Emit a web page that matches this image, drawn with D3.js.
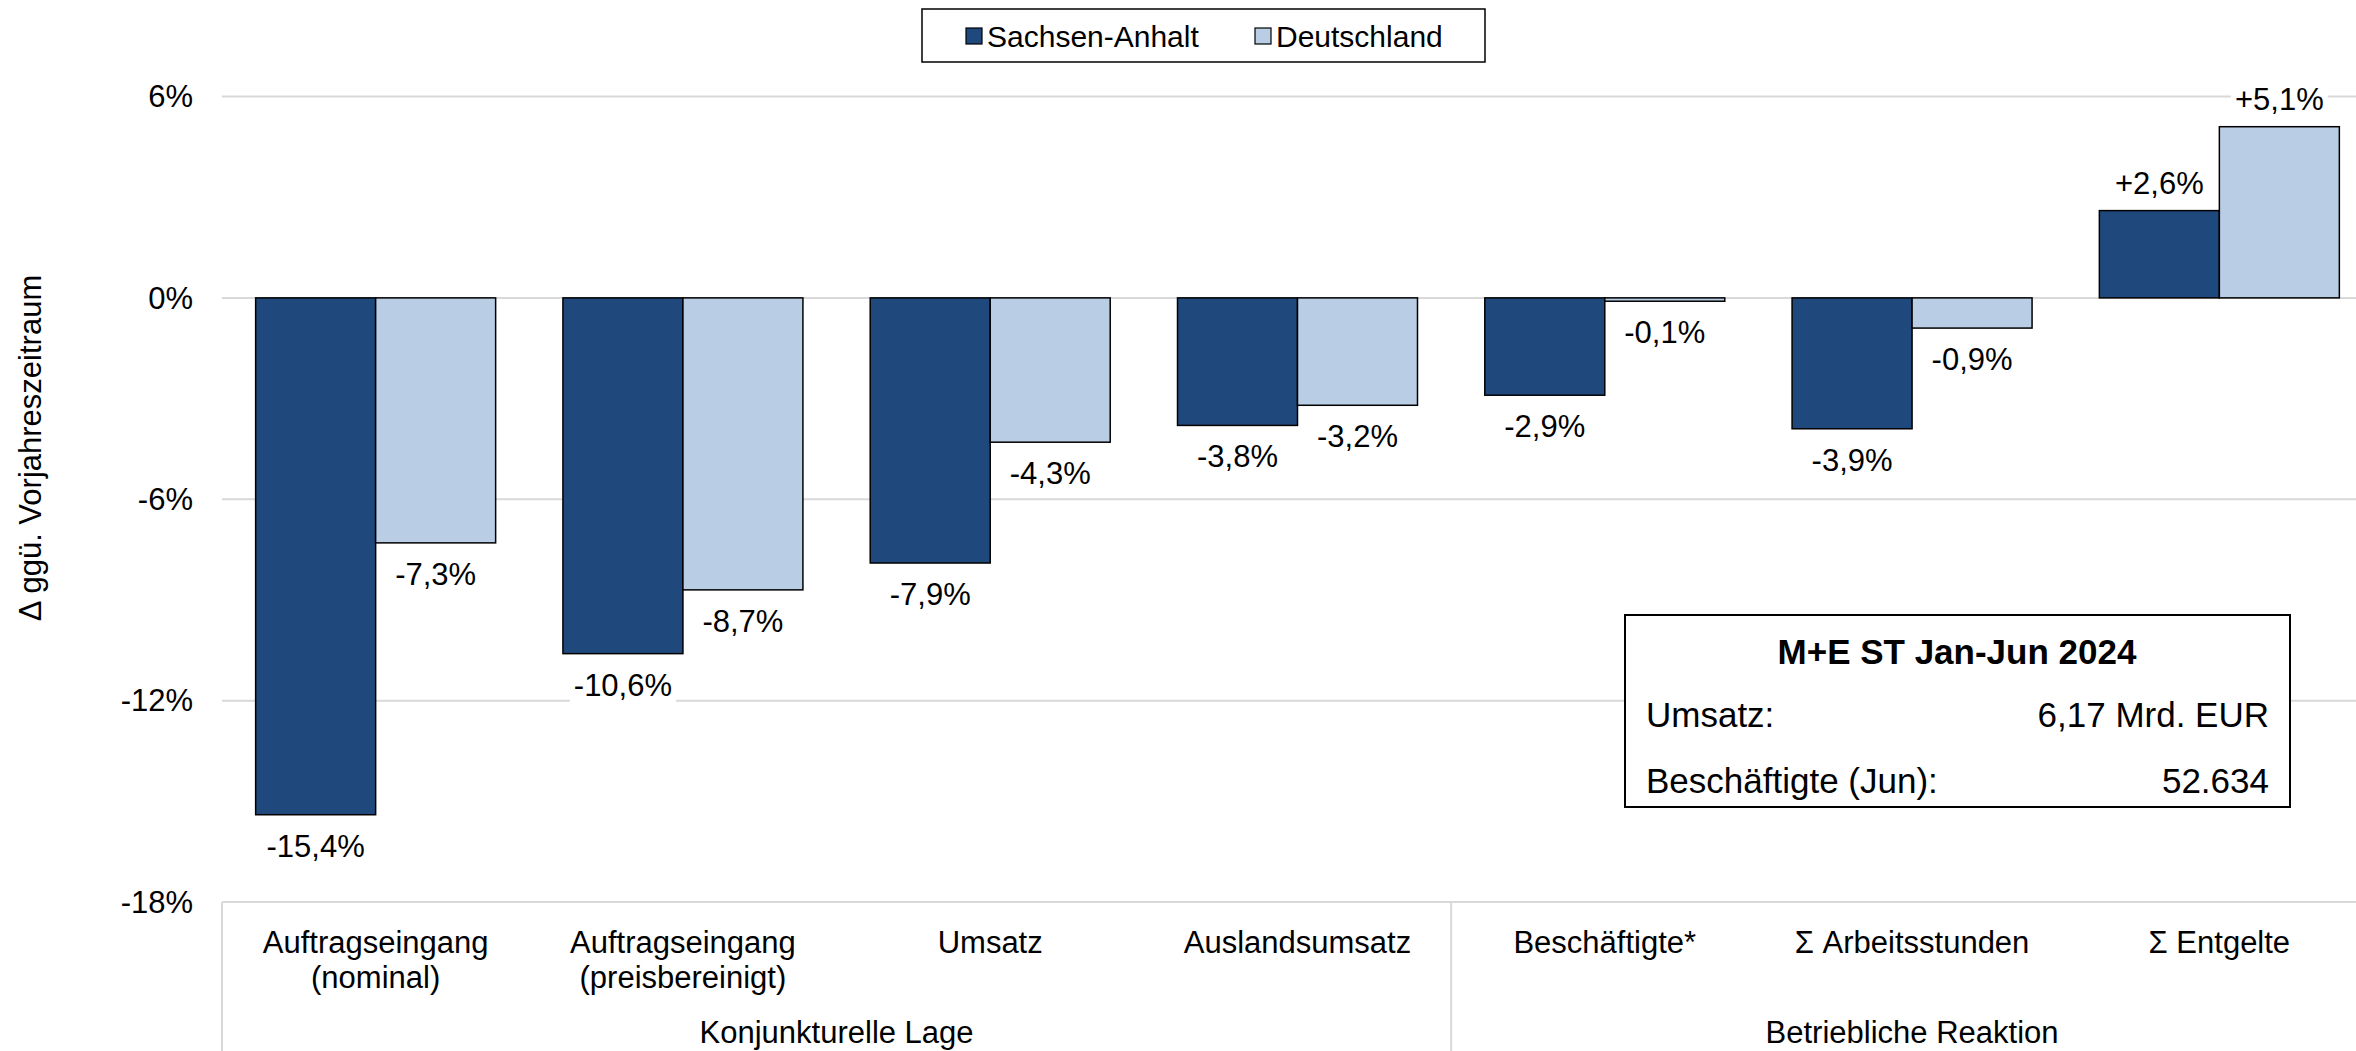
<!DOCTYPE html>
<html>
<head>
<meta charset="utf-8">
<script src="https://cdn.jsdelivr.net/npm/d3@7"></script>
<style>
  body { margin: 0; background: #fff; }
  svg { display: block; font-family: "Liberation Sans", Arial, sans-serif; }
</style>
</head>
<body>
<svg id="chart" width="2356" height="1051"></svg>
<script>
var categories = ["Auftragseingang (nominal)", "Auftragseingang (preisbereinigt)", "Umsatz",
  "Auslandsumsatz", "Beschäftigte*", "Σ Arbeitsstunden", "Σ Entgelte"];
var categoryLines = [["Auftragseingang", "(nominal)"], ["Auftragseingang", "(preisbereinigt)"], ["Umsatz"],
  ["Auslandsumsatz"], ["Beschäftigte*"], ["Σ Arbeitsstunden"], ["Σ Entgelte"]];
var series = ["Sachsen-Anhalt", "Deutschland"];
var sachsenAnhalt = [-15.4, -10.6, -7.9, -3.8, -2.9, -3.9, 2.6];
var deutschland = [-7.3, -8.7, -4.3, -3.2, -0.1, -0.9, 5.1];
var yTicks = [-18, -12, -6, 0, 6];
var groupNames = ["Konjunkturelle Lage", "Betriebliche Reaktion"];
var groupFirst = [0, 4];
var groupLast = [3, 6];
var boxTitle = "M+E ST Jan-Jun 2024";
var boxRows = [["Umsatz:", "6,17 Mrd. EUR"], ["Beschäftigte (Jun):", "52.634"]];

var colors = {"Sachsen-Anhalt": "#1f497d", "Deutschland": "#b9cde5"};
var margin = {left: 222, top: 96.5, bottom: 902};

var svg = d3.select("#chart"),
  W = +svg.attr("width");

var x0 = d3.scaleBand().domain(categories).range([margin.left, 2373])
  .paddingInner(0.219).paddingOuter(0.1095);
var x1 = d3.scaleBand().domain(series).range([0, x0.bandwidth()]);
var y = d3.scaleLinear().domain([-18, 6]).range([margin.bottom, margin.top]);

var fmt = function(v) {
  return (v > 0 ? "+" : "") + v.toFixed(1).replace(".", ",") + "%";
};

// gridlines
svg.append("g").selectAll("line").data(yTicks).join("line")
  .attr("x1", margin.left).attr("x2", W)
  .attr("y1", function(d) { return y(d); }).attr("y2", function(d) { return y(d); })
  .attr("stroke", "#d9d9d9").attr("stroke-width", 2);

// y tick labels
svg.append("g").selectAll("text").data(yTicks).join("text")
  .attr("x", 193).attr("y", function(d) { return y(d); })
  .attr("dy", "0.35em").attr("text-anchor", "end")
  .attr("font-size", 31).attr("fill", "#000")
  .text(function(d) { return d + "%"; });

// y axis title
svg.append("text")
  .attr("transform", "translate(41,448) rotate(-90)")
  .attr("text-anchor", "middle").attr("font-size", 31)
  .text("Δ ggü. Vorjahreszeitraum");

// separators below axis
var sepX = [margin.left, x0(categories[4]) - x0.step() * x0.paddingInner() / 2];
svg.append("g").selectAll("line").data(sepX).join("line")
  .attr("x1", function(d) { return d; }).attr("x2", function(d) { return d; })
  .attr("y1", margin.bottom).attr("y2", 1051)
  .attr("stroke", "#d9d9d9").attr("stroke-width", 2);

// bars
var rows = categories.map(function(c, i) {
  return {cat: c, vals: [{s: series[0], v: sachsenAnhalt[i]}, {s: series[1], v: deutschland[i]}]};
});
var groups = svg.append("g").selectAll("g").data(rows).join("g")
  .attr("transform", function(d) { return "translate(" + x0(d.cat) + ",0)"; });

groups.selectAll("rect").data(function(d) { return d.vals; }).join("rect")
  .attr("x", function(d) { return x1(d.s); })
  .attr("width", x1.bandwidth())
  .attr("y", function(d) { return y(Math.max(0, d.v)); })
  .attr("height", function(d) { return Math.abs(y(d.v) - y(0)); })
  .attr("fill", function(d) { return colors[d.s]; })
  .attr("stroke", "#000").attr("stroke-width", 1.5);

// value labels
var labs = groups.selectAll("g.lab").data(function(d) { return d.vals; }).join("g")
  .attr("class", "lab");
labs.append("rect").attr("fill", "#fff");
labs.append("text")
  .attr("x", function(d) { return x1(d.s) + x1.bandwidth() / 2; })
  .attr("y", function(d) { return d.v < 0 ? y(d.v) + 42 : y(d.v) - 17; })
  .attr("text-anchor", "middle").attr("font-size", 31)
  .text(function(d) { return fmt(d.v); });
labs.each(function() {
  var g = d3.select(this), b = g.select("text").node().getBBox();
  g.select("rect").attr("x", b.x - 4).attr("y", b.y).attr("width", b.width + 8).attr("height", b.height);
});

// category labels
svg.append("g").selectAll("text").data(categories).join("text")
  .attr("x", function(d) { return x0(d) + x0.bandwidth() / 2; })
  .attr("y", 953).attr("text-anchor", "middle").attr("font-size", 31)
  .each(function(d, i) {
    d3.select(this).selectAll("tspan").data(categoryLines[i]).join("tspan")
      .attr("x", x0(d) + x0.bandwidth() / 2)
      .attr("dy", function(t, j) { return j === 0 ? 0 : 35; })
      .text(function(t) { return t; });
  });

// group labels
svg.append("g").selectAll("text").data(groupNames).join("text")
  .attr("x", function(d, i) {
    var a = x0(categories[groupFirst[i]]) - x0.step() * x0.paddingInner() / 2,
      b = x0(categories[groupLast[i]]) + x0.bandwidth() + x0.step() * x0.paddingInner() / 2;
    return (a + b) / 2;
  })
  .attr("y", 1043).attr("text-anchor", "middle").attr("font-size", 31)
  .text(function(d) { return d; });

// legend
var legend = svg.append("g");
legend.append("rect").attr("x", 922).attr("y", 9).attr("width", 563).attr("height", 53)
  .attr("fill", "#fff").attr("stroke", "#000").attr("stroke-width", 1.5);
var legX = [966, 1255];
var li = legend.selectAll("g").data(series).join("g")
  .attr("transform", function(d, i) { return "translate(" + legX[i] + ",36)"; });
li.append("rect").attr("x", 0).attr("y", -8).attr("width", 16).attr("height", 16)
  .attr("fill", function(d) { return colors[d]; }).attr("stroke", "#000").attr("stroke-width", 1.2);
li.append("text").attr("x", 21).attr("dy", "0.35em").attr("font-size", 30)
  .text(function(d) { return d; });

// info box
var box = svg.append("g");
box.append("rect").attr("x", 1625).attr("y", 615).attr("width", 665).attr("height", 192)
  .attr("fill", "#fff").attr("stroke", "#000").attr("stroke-width", 2);
box.append("text").attr("x", 1957).attr("y", 664).attr("text-anchor", "middle")
  .attr("font-size", 35).attr("font-weight", "bold").text(boxTitle);
boxRows.forEach(function(r, i) {
  box.append("text").attr("x", 1646).attr("y", 727 + i * 66).attr("font-size", 35).text(r[0]);
  box.append("text").attr("x", 2269).attr("y", 727 + i * 66).attr("text-anchor", "end")
    .attr("font-size", 35).text(r[1]);
});
</script>
</body>
</html>
